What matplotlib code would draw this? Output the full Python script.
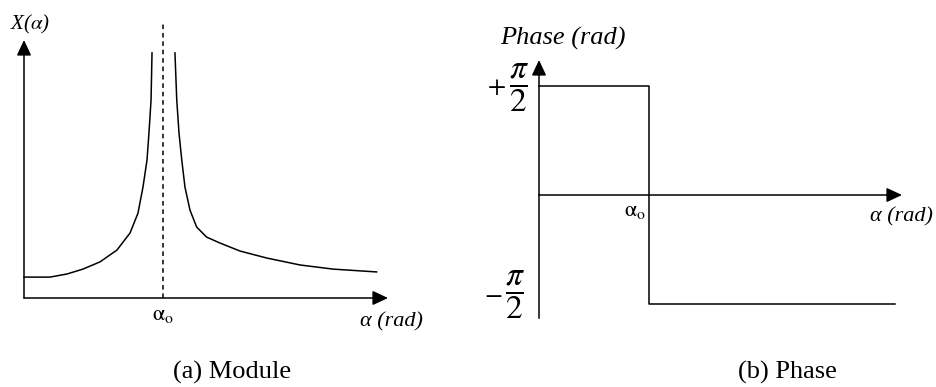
import numpy as np
import matplotlib.pyplot as plt

plt.rcParams['font.family'] = 'Liberation Serif'
plt.rcParams['mathtext.fontset'] = 'stix'

# module curve, alpha in units of alpha_0 (two branches around the resonance)
alpha_low = [0.0, 0.187, 0.309, 0.424, 0.547, 0.669, 0.763, 0.820, 0.856, 0.885,
             0.899, 0.914, 0.921]
mod_low = [0.081, 0.081, 0.093, 0.112, 0.140, 0.186, 0.252, 0.329, 0.430, 0.535,
           0.640, 0.767, 0.950]
alpha_high = [1.086, 1.099, 1.115, 1.135, 1.158, 1.194, 1.242, 1.314, 1.410, 1.554,
              1.746, 1.986, 2.223, 2.537]
mod_high = [0.950, 0.767, 0.640, 0.535, 0.430, 0.341, 0.275, 0.236, 0.213, 0.182,
            0.155, 0.128, 0.112, 0.101]

# phase step at alpha_0
alpha_phase = [0.0, 1.0, 1.0, 3.236]
phase = [np.pi / 2, np.pi / 2, -np.pi / 2, -np.pi / 2]

W, H = 936, 387
fig = plt.figure(figsize=(W / 100, H / 100), dpi=100)

lw = 1.1
arrow = dict(arrowstyle='-|>,head_length=0.47,head_width=0.22', mutation_scale=20,
             lw=lw, color='black', shrinkA=0, shrinkB=0)


def draw_arrow(ax, x0, y0, x1, y1):
    ax.annotate('', xy=(x1, y1), xytext=(x0, y0), arrowprops=arrow,
                annotation_clip=False)


# (a) module
ax1 = fig.add_axes([24 / W, (H - 298) / H, 364 / W, 258 / H])
ax1.set_xlim(0, 364 / 139)
ax1.set_ylim(0, 1)
ax1.axis('off')
ax1.plot(alpha_low, mod_low, color='black', lw=lw, clip_on=False)
ax1.plot(alpha_high, mod_high, color='black', lw=lw, clip_on=False)
ax1.plot([1, 1], [0, 1.066], color='black', lw=lw, ls=(0, (3, 2.5)), clip_on=False)
draw_arrow(ax1, 0, 0, 364 / 139, 0)
draw_arrow(ax1, 0, 0, 0, 1)
ax1.text(0.043, 1.062, r'X($\alpha$)', style='italic', fontsize=15,
         ha='center', va='center')
ax1.text(1.0, -0.066, r'$\mathrm{\alpha}_{\mathrm{o}}$', fontsize=16,
         ha='center', va='center')
ax1.text(2.64, -0.093, 'α (rad)', style='italic', fontsize=16,
         ha='center', va='center')
fig.text(232 / W, 1 - 372 / H, '(a) Module', fontsize=19, ha='center', va='center')

# (b) phase
ax2 = fig.add_axes([539 / W, (H - 318) / H, 363 / W, 258 / H])
ax2.set_xlim(0, 3.3)
ax2.set_ylim(-1.772, 1.945)
ax2.axis('off')
ax2.plot(alpha_phase, phase, color='black', lw=lw, clip_on=False)
ax2.plot([0, 0], [-1.772, 0], color='black', lw=lw, clip_on=False)
draw_arrow(ax2, 0, 0, 0, 1.945)
draw_arrow(ax2, 0, 0, 3.3, 0)

# +pi/2 and -pi/2 labels: sign beside a large fraction
ax2.annotate(r'$\dfrac{\pi}{2}$', xy=(0, np.pi / 2), xytext=(-7, -1),
             textcoords='offset points', fontsize=24, ha='right', va='center')
ax2.annotate(r'$+$', xy=(0, np.pi / 2), xytext=(-31, -1.5),
             textcoords='offset points', fontsize=19, ha='center', va='center')
ax2.annotate(r'$\dfrac{\pi}{2}$', xy=(0, -np.pi / 2), xytext=(-10, 7),
             textcoords='offset points', fontsize=24, ha='right', va='center')
ax2.annotate(r'$-$', xy=(0, -np.pi / 2), xytext=(-33, 6.5),
             textcoords='offset points', fontsize=19, ha='center', va='center')

ax2.annotate(r'$\mathrm{\alpha}_{\mathrm{o}}$', xy=(1, 0), xytext=(-10, -12),
             textcoords='offset points', fontsize=16, ha='center', va='center')
ax2.text(933 / 110 - 539 / 110, -0.317, 'α (rad)', style='italic', fontsize=16,
         ha='right', va='center')
fig.text(563 / W, 1 - 38 / H, 'Phase (rad)', style='italic', fontsize=19,
         ha='center', va='center')
fig.text(787 / W, 1 - 372 / H, '(b) Phase', fontsize=19, ha='center', va='center')

fig.savefig('out.png', dpi=100)
